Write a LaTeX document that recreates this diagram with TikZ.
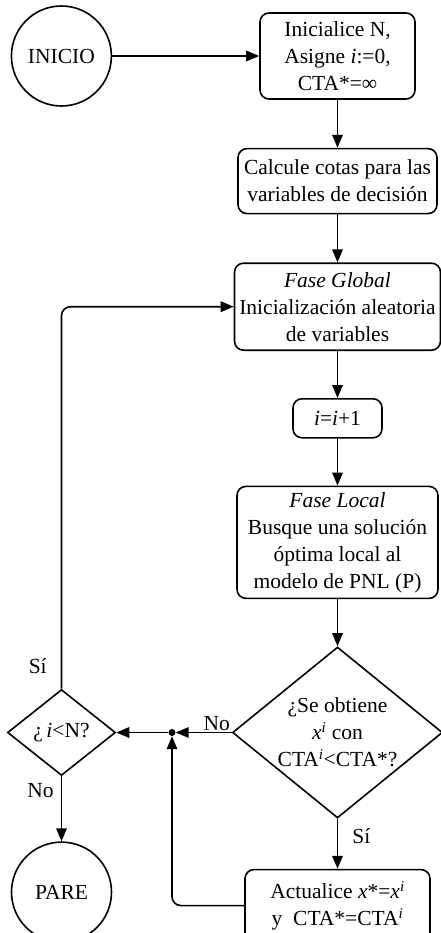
\documentclass[tikz,border=0pt]{standalone}
\usepackage{fontspec}
\setmainfont{Liberation Serif}
\usepackage{tikz}
\usetikzlibrary{arrows.meta,positioning,shapes.geometric}

\begin{document}
\begin{tikzpicture}[
  node distance=48pt,
  font=\fontsize{21.5}{27}\selectfont,
  paso/.style={rectangle,rounded corners=9pt,draw=black,line width=1.6pt,
               inner sep=2pt,align=center},
  terminal/.style={circle,draw=black,line width=1.6pt,minimum size=100pt,inner sep=0pt},
  decision/.style={diamond,draw=black,line width=1.6pt,inner sep=0pt},
  punto/.style={circle,fill=black,inner sep=0pt,minimum size=7pt},
  etiqueta/.style={inner sep=2pt},
  arr/.style={-{Triangle[length=13pt,width=10.5pt]},line width=1.6pt},
  lazo/.style={arr,rounded corners=9pt}
]
  \useasboundingbox (0,0) rectangle (441pt,-933pt);

  \node[paso,minimum width=155pt,minimum height=86pt] (inicializa) at (337.5pt,-56pt)
    {Inicialice N,\\Asigne \textit{i}:=0,\\CTA*=∞};
  \node[terminal,left=147pt of inicializa] (inicio) {INICIO};
  \node[paso,minimum width=199pt,minimum height=65pt,below=of inicializa] (cotas)
    {Calcule cotas para las\\variables de decisión};
  \node[paso,minimum width=206pt,minimum height=87pt,below=of cotas] (global)
    {\textit{Fase Global}\\Inicialización aleatoria\\de variables};
  \node[paso,minimum width=89pt,minimum height=39pt,below=47pt of global] (incremento)
    {\textit{i}=\textit{i}+1};
  \node[paso,minimum width=201pt,minimum height=112pt,below=47pt of incremento] (local)
    {\textit{Fase Local}\\Busque una solución\\óptima local al\\modelo de PNL (P)};
  \node[decision,minimum width=210pt,minimum height=171pt,below=47pt of local] (obtiene) {};
  \node[align=center] (obtienetxt) at (obtiene)
    {¿Se obtiene\\\textit{x}\textsuperscript{\textit{i}} con\\CTA\textsuperscript{\textit{i}}<CTA*?};
  \node[paso,minimum width=185pt,minimum height=72pt,below=50pt of obtiene] (actualiza)
    {Actualice \textit{x}*=\textit{x}\textsuperscript{\textit{i}}\\y\ \ CTA*=CTA\textsuperscript{\textit{i}}};

  \node[punto,left=56pt of obtiene] (junta) {};
  \node[decision,minimum width=108pt,minimum height=86pt,left=52pt of junta] (sigue) {};
  \node (siguetxt) at (sigue) {¿\,\textit{i}<N?};
  \node[terminal,below=65pt of sigue] (pare) {PARE};

  \draw[arr] (inicio) -- (inicializa);
  \draw[arr] (inicializa) -- (cotas);
  \draw[arr] (cotas) -- (global);
  \draw[arr] (global) -- (incremento);
  \draw[arr] (incremento) -- (local);
  \draw[arr] (local) -- (obtiene);
  \draw[arr] (obtiene) -- node[etiqueta,pos=0.34,right=12pt] (obtienesi) {Sí} (actualiza);
  \draw[arr] (obtiene) -- node[etiqueta,pos=0,anchor=south east,inner sep=1pt] (obtieneno) {No} (junta);
  \draw[arr] (junta) -- (sigue);
  \draw[lazo] (actualiza) -| (junta);
  \draw[lazo] (sigue) |- node[etiqueta,pos=0.03,left=12pt] (siguesi) {Sí} (global);
  \draw[arr] (sigue) -- node[etiqueta,pos=0.22,left=5pt] (sigueno) {No} (pare);
\end{tikzpicture}
\end{document}
